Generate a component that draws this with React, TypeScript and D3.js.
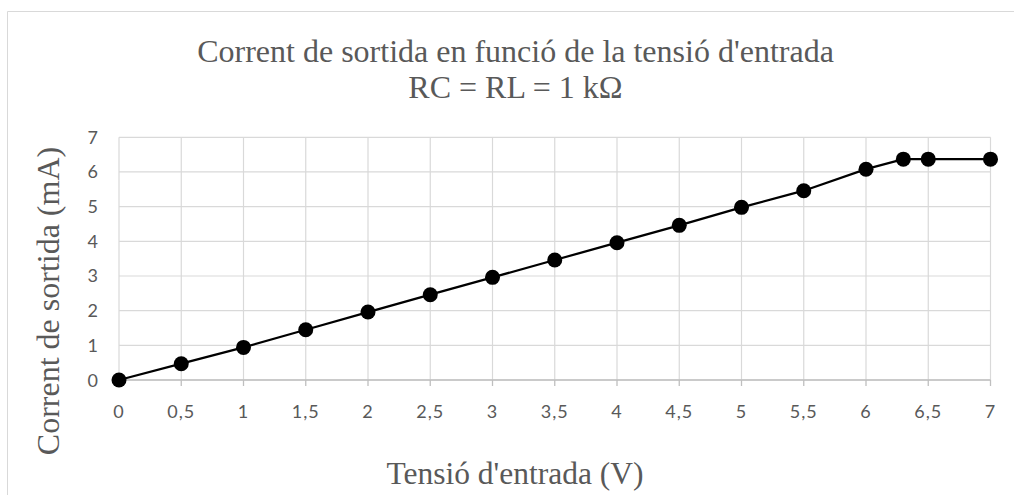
import React from "react";
import * as d3 from "d3";

const voltages = [0, 0.5, 1, 1.5, 2, 2.5, 3, 3.5, 4, 4.5, 5, 5.5, 6, 6.3, 6.5, 7];
const currents = [0, 0.47, 0.94, 1.45, 1.96, 2.46, 2.96, 3.46, 3.96, 4.46, 4.98, 5.46, 6.08, 6.37, 6.37, 6.37];
const xTicks = [0, 0.5, 1, 1.5, 2, 2.5, 3, 3.5, 4, 4.5, 5, 5.5, 6, 6.5, 7];
const yTicks = [0, 1, 2, 3, 4, 5, 6, 7];
const titleLine1 = "Corrent de sortida en funció de la tensió d'entrada";
const titleLine2 = "RC = RL = 1 kΩ";
const xTitle = "Tensió d'entrada (V)";
const yTitle = "Corrent de sortida (mA)";

const W = 1014;
const H = 495;
const plot = { left: 119, right: 990.5, top: 137.3, bottom: 380 };

export default function App() {
  const x = d3.scaleLinear().domain([0, 7]).range([plot.left, plot.right]);
  const y = d3.scaleLinear().domain([0, 7]).range([plot.bottom, plot.top]);
  const pts = voltages.map((v, i) => [v, currents[i]] as [number, number]);
  const line = d3
    .line<[number, number]>()
    .x((d) => x(d[0]))
    .y((d) => y(d[1]));
  const fmt = (v: number) => String(v).replace(".", ",");
  const grid = "#d9d9d9";
  const text = "#595959";
  const serif = "'Liberation Serif', 'Times New Roman', serif";
  const sans = "Lato, 'Open Sans', sans-serif";

  return (
    <svg
      width={W}
      height={H}
      style={{ position: "fixed", left: 0, top: 0, background: "#fff" }}
    >
      <rect x={0} y={0} width={W} height={H} fill="#fff" />
      {/* chart border */}
      <line x1={7.5} y1={11.5} x2={W} y2={11.5} stroke={grid} strokeWidth={1} />
      <line x1={7.5} y1={11.5} x2={7.5} y2={H} stroke={grid} strokeWidth={1} />

      {/* gridlines */}
      {yTicks.map((t) => (
        <line
          key={"gy" + t}
          x1={plot.left}
          x2={plot.right}
          y1={y(t)}
          y2={y(t)}
          stroke={grid}
          strokeWidth={1.2}
        />
      ))}
      {xTicks.map((t) => (
        <line
          key={"gx" + t}
          x1={x(t)}
          x2={x(t)}
          y1={plot.top}
          y2={plot.bottom}
          stroke={grid}
          strokeWidth={1.2}
        />
      ))}
      {/* x axis line + ticks */}
      <line x1={plot.left} x2={plot.right} y1={plot.bottom} y2={plot.bottom} stroke="#bfbfbf" strokeWidth={1.3} />
      {xTicks.map((t) => (
        <line
          key={"tx" + t}
          x1={x(t)}
          x2={x(t)}
          y1={plot.bottom}
          y2={plot.bottom + 6}
          stroke="#bfbfbf"
          strokeWidth={1.3}
        />
      ))}

      {/* tick labels */}
      {xTicks.map((t) => (
        <text
          key={"lx" + t}
          x={x(t)}
          y={418}
          textAnchor="middle"
          fontFamily={sans}
          fontSize={18}
          letterSpacing={1}
          fill={text}
        >
          {fmt(t)}
        </text>
      ))}
      {yTicks.map((t) => (
        <text
          key={"ly" + t}
          x={98}
          y={y(t) + 6.5}
          textAnchor="end"
          fontFamily={sans}
          fontSize={18}
          fill={text}
        >
          {fmt(t)}
        </text>
      ))}

      {/* series */}
      <path d={line(pts) || ""} fill="none" stroke="#000" strokeWidth={2.25} />
      {pts.map((p, i) => (
        <circle key={"p" + i} cx={x(p[0])} cy={y(p[1])} r={7.5} fill="#000" />
      ))}

      {/* titles */}
      <text x={515.5} y={61.5} textAnchor="middle" fontFamily={serif} fontSize={32} fill={text}>
        {titleLine1}
      </text>
      <text x={515.5} y={98} textAnchor="middle" fontFamily={serif} fontSize={32} fill={text}>
        {titleLine2}
      </text>
      <text x={515} y={484} textAnchor="middle" fontFamily={serif} fontSize={31.5} fill={text}>
        {xTitle}
      </text>
      <text
        transform={`translate(59, 301) rotate(-90)`}
        textAnchor="middle"
        fontFamily={serif}
        fontSize={32}
        fill={text}
      >
        {yTitle}
      </text>
    </svg>
  );
}
